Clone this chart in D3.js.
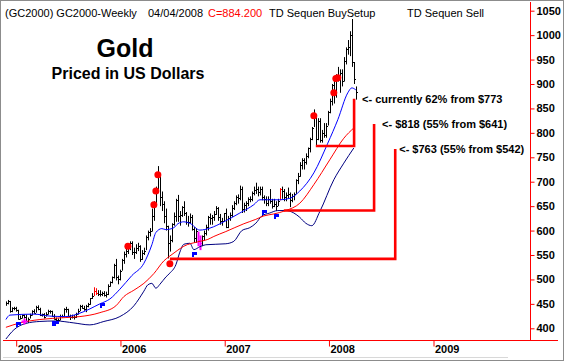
<!DOCTYPE html>
<html lang="en">
<head>
<meta charset="UTF-8">
<title>Gold weekly</title>
<script src="https://d3js.org/d3.v7.min.js"></script>
<style>
  body { margin: 0; background: #fff; }
  svg { display: block; }
  text { font-family: Arial, "Liberation Sans", sans-serif; }
</style>
</head>
<body>
<svg width="564" height="361"></svg>
<script>
// weekly bars, Nov 26 2004 .. Apr 4 2008
const highs = [455,458,456,443,444,444,438,426,428,428,428,422,430,437,439,446,447,442,430,431,
  433,438,437,436,429,422,420,428,428,441,444,440,428,428,427,432,440,448,448,446,
  448,452,462,472,484,482,478,478,475,476,475,490,496,506,532,542,508,520,542,557,
  565,572,578,578,565,572,575,570,560,565,590,600,605,645,660,690,732,712,680,660,
  645,610,590,615,637,665,673,640,650,660,638,630,635,632,607,605,598,590,590,600,
  612,630,635,632,640,650,648,634,626,636,645,630,637,652,660,672,674,692,690,657,
  660,668,670,680,690,698,690,690,690,672,670,670,685,665,665,660,665,687,690,685,
  678,688,678,675,678,705,718,740,748,748,758,770,790,812,848,832,830,830,806,820,
  820,845,870,900,915,920,935,930,930,955,975,990,1008,1033,945,895];
const lows = [446,449,432,433,437,434,418,418,420,420,412,411,420,426,430,432,437,425,424,420,
  424,428,430,424,418,414,414,416,422,425,432,424,417,420,418,421,428,435,440,436,
  433,443,448,460,466,468,466,465,466,465,463,468,485,492,502,498,490,498,518,532,
  545,552,560,550,542,552,558,536,540,550,560,580,588,598,620,655,685,650,640,615,
  600,543,557,576,610,618,618,610,628,630,612,608,615,600,575,575,568,560,568,580,
  590,600,612,612,620,632,620,612,610,618,605,605,620,628,642,652,655,662,636,637,
  640,650,658,660,672,675,670,672,662,655,650,650,655,645,648,640,650,662,665,660,
  660,666,648,658,662,675,695,710,725,725,735,748,760,785,812,775,785,780,780,790,
  790,815,840,856,860,872,905,882,895,905,940,960,957,935,900,868];
const closes = [452,455,436,441,442,438,419,422,427,424,414,420,428,435,432,444,439,427,429,424,
  430,436,435,426,420,418,417,426,425,440,439,426,423,424,424,430,436,445,442,440,
  446,450,461,466,476,472,471,470,473,468,470,486,494,504,530,506,500,518,540,552,
  558,568,575,556,556,565,568,542,555,559,586,598,600,630,653,681,714,668,655,630,
  610,575,580,613,630,662,630,632,648,635,618,618,628,604,585,600,580,574,588,596,
  608,628,625,628,634,646,628,620,620,635,608,626,632,647,657,668,666,686,645,652,
  656,664,665,677,683,685,678,686,668,664,656,665,660,650,655,650,660,685,680,668,
  672,675,662,670,675,703,712,735,745,740,752,768,788,810,835,788,825,785,800,795,
  815,842,866,898,882,911,913,922,907,948,972,975,1000,945,910,884];

// indicator lines, sampled as [week index, price]
const fastAvg = [[0,418],[2,427],[14,429],[22,425],[30,424],[37,431],[47,450],[52,460],[57,480],[63,508],
  [69,533],[73,571],[75,596],[78,604],[80,602],[84,606],[86,614],[89,618],[92,615],[97,601],
  [102,605],[109,618],[117,636],[124,653],[127,663],[137,663],[142,666],[147,681],[154,718],
  [161,779],[166,827],[171,882],[173,892],[175,888]];
const midAvg = [[0,402],[7,411],[17,418],[30,422],[37,424],[47,432],[55,446],[59,465],[64,478],[69,492],
  [74,512],[79,538],[82,548],[86,560],[89,568],[96,577],[101,582],[104,588],[110,598],[119,614],
  [125,623],[129,630],[134,634],[140,641],[147,656],[154,694],[162,745],[169,789],[174,810]];
const lowAvg = [[0,378],[4,397],[10,410],[17,414],[25,415],[34,411],[42,407],[49,414],[57,424],[64,446],
  [69,476],[71,489],[73,492],[75,482],[77,490],[80,505],[82,513],[85,530],[87,556],[89,572],
  [92,574],[94,561],[97,567],[100,571],[110,573],[114,578],[118,600],[122,606],[125,615],[128,630],
  [132,636],[136,641],[140,641],[144,636],[147,627],[150,615],[153,610],[157,639],[164,704],
  [169,738],[174,769]];

// TD marks
const redDots = [[61,568],[74,653],[75,681],[76,714],[82,532],[154,835],[164,882],[165,911],[166,913]];
const blueMarks = [[6,409],[24,411],[25,411],[48,448],[94,552],[129,639],[135,629]];
const pinkMarks = [[9,414]];
const redBars = [44,45,137];
const pinkBars = [96,97];

// annotation levels
const annoLow = [773, 641, 542];
const annoTop = [870, 818, 767];
const annoFrom = [new Date(2007,10,16), new Date(2007,6,27), new Date(2006,5,23)];
const annoTo = [new Date(2008,2,29), new Date(2008,5,7), new Date(2008,7,20)];
const annoText = ["<- currently 62% from $773", "<- $818 (55% from $641)", "<- $763 (55% from $542)"];

const priceTicks = [400,450,500,550,600,650,700,750,800,850,900,950,1000,1050];
const yearTicks = [2005,2006,2007,2008,2009];

const weeks = d3.timeFriday.range(new Date(2004,10,26), new Date(2008,3,5));

const svg = d3.select("svg");

const x = d3.scaleTime()
  .domain([new Date(2005,0,1), new Date(2009,0,1)])
  .range([16.2, 433.5]);
const y = d3.scaleLinear().domain([400, 1050]).range([328.3, 10.7]);

const bx = i => Math.round(x(weeks[i])) + 0.5;

// frame
svg.append("rect").attr("x", 0.5).attr("y", 0.5).attr("width", 563).attr("height", 360)
  .attr("fill", "#fff").attr("stroke", "#8c8c8c");
svg.append("line").attr("x1", 3).attr("x2", 508).attr("y1", 357.5).attr("y2", 357.5)
  .attr("stroke", "#d8d8d8");

svg.append("clipPath").attr("id", "plot")
  .append("rect").attr("x", 3).attr("y", 2).attr("width", 527).attr("height", 338);

const plot = svg.append("g").attr("clip-path", "url(#plot)");

// bars
const barColor = i => redBars.includes(i) ? "#ff0000" : pinkBars.includes(i) ? "#ff00ff" : "#000";
const bars = plot.append("g");
bars.selectAll("line.hl").data(weeks).join("line")
  .attr("class", "hl")
  .attr("x1", (d, i) => bx(i)).attr("x2", (d, i) => bx(i))
  .attr("y1", (d, i) => y(highs[i])).attr("y2", (d, i) => y(lows[i]))
  .attr("stroke", (d, i) => barColor(i))
  .attr("stroke-width", (d, i) => pinkBars.includes(i) ? 2 : 1);
bars.selectAll("line.cl").data(weeks).join("line")
  .attr("class", "cl")
  .attr("x1", (d, i) => bx(i)).attr("x2", (d, i) => bx(i) + 1.5)
  .attr("y1", (d, i) => Math.round(y(closes[i])) + 0.5)
  .attr("y2", (d, i) => Math.round(y(closes[i])) + 0.5)
  .attr("stroke", (d, i) => barColor(i));

// indicator lines
const line = d3.line().x(d => x(weeks[d[0]])).y(d => y(d[1])).curve(d3.curveMonotoneX);
plot.append("path").datum(lowAvg).attr("d", line)
  .attr("fill", "none").attr("stroke", "#000080").attr("stroke-width", 1);
plot.append("path").datum(midAvg).attr("d", line)
  .attr("fill", "none").attr("stroke", "#ff0000").attr("stroke-width", 1);
plot.append("path").datum(fastAvg).attr("d", line)
  .attr("fill", "none").attr("stroke", "#0000ff").attr("stroke-width", 1);

// marks
plot.selectAll("circle.td").data(redDots).join("circle")
  .attr("cx", d => x(weeks[d[0]])).attr("cy", d => y(d[1])).attr("r", 3.5)
  .attr("fill", "#ff0000");
plot.selectAll("path.bm").data(blueMarks).join("path")
  .attr("d", d => {
    const cx = Math.round(x(weeks[d[0]])), cy = Math.round(y(d[1]));
    return `M${cx - 2},${cy - 2}h5v3h-3v2h-2z`;
  })
  .attr("fill", "#0000ff");
plot.selectAll("path.pm").data(pinkMarks).join("path")
  .attr("d", d => {
    const cx = Math.round(x(weeks[d[0]])) + 0.5, cy = Math.round(y(d[1])) + 0.5;
    return `M${cx - 3},${cy}h6M${cx},${cy - 3}v6`;
  })
  .attr("stroke", "#ff00ff").attr("stroke-width", 2);

// right price axis
svg.append("line").attr("x1", 530.5).attr("x2", 530.5).attr("y1", 2).attr("y2", 340)
  .attr("stroke", "#ff0000");
const yAxis = svg.append("g").attr("transform", "translate(530.5,0)")
  .call(d3.axisRight(y).tickValues(priceTicks).tickSize(4).tickPadding(2).tickFormat(d3.format("d")));
yAxis.select(".domain").remove();
yAxis.selectAll(".tick line").attr("stroke", "#ff0000");
yAxis.selectAll("text").attr("fill", "#000").style("font-size", "11px").style("font-weight", "bold")
  .style("font-family", "Arial, 'Liberation Sans', sans-serif");

// bottom time axis
svg.append("line").attr("x1", 3).attr("x2", 558).attr("y1", 340.5).attr("y2", 340.5)
  .attr("stroke", "#ff0000");
const xAxis = svg.append("g").attr("transform", "translate(0,340.5)")
  .call(d3.axisBottom(x).tickValues(yearTicks.map(yr => new Date(yr, 0, 1)))
    .tickSize(6).tickFormat(d3.timeFormat("%Y")));
xAxis.select(".domain").remove();
xAxis.selectAll(".tick line").attr("stroke", "#ff0000");
xAxis.selectAll("text").attr("fill", "#000").attr("text-anchor", "start")
  .attr("x", 1).attr("y", 5).attr("dy", "0.71em")
  .style("font-size", "11px").style("font-weight", "bold")
  .style("font-family", "Arial, 'Liberation Sans', sans-serif");

// annotations
const labelGap = [8, 8, 4];
const anno = svg.append("g");
annoLow.forEach((lv, k) => {
  const x0 = x(annoFrom[k]), x1 = x(annoTo[k]);
  anno.append("path")
    .attr("d", `M${x0},${y(lv)}H${x1}V${y(annoTop[k])}`)
    .attr("fill", "none").attr("stroke", "#ff0000").attr("stroke-width", 2.6);
  anno.append("text")
    .attr("x", x1 + labelGap[k]).attr("y", y(annoTop[k])).attr("dy", "0.35em")
    .style("font-size", "11px").style("font-weight", "bold")
    .text(annoText[k]);
});

// titles
svg.append("text").attr("x", 125).attr("y", 57).attr("text-anchor", "middle")
  .style("font-size", "25px").style("font-weight", "bold").text("Gold");
svg.append("text").attr("x", 128).attr("y", 79).attr("text-anchor", "middle")
  .style("font-size", "16px").style("font-weight", "bold").text("Priced in US Dollars");

// header
const head = svg.append("g").style("font-size", "11px");
head.append("text").attr("x", 5).attr("y", 17).text("(GC2000) GC2000-Weekly");
head.append("text").attr("x", 148).attr("y", 17).text("04/04/2008");
head.append("text").attr("x", 208).attr("y", 17).attr("fill", "#ff0000").text("C=884.200");
head.append("text").attr("x", 269).attr("y", 17).text("TD Sequen BuySetup");
head.append("text").attr("x", 407).attr("y", 17).text("TD Sequen Sell");
</script>
</body>
</html>
